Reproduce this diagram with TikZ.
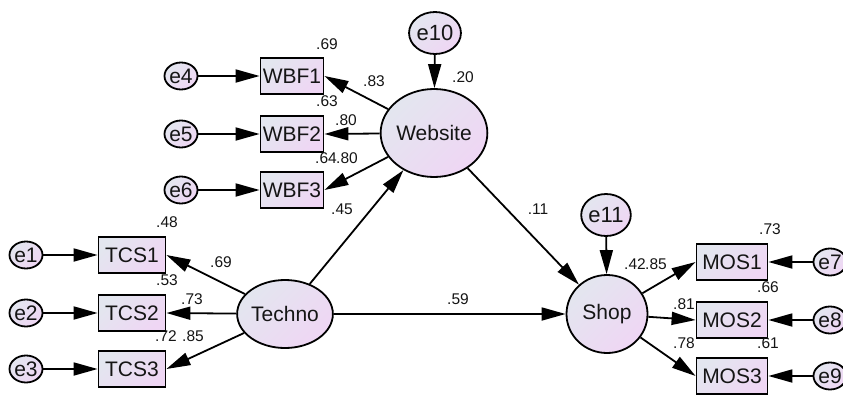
\documentclass[tikz,border=0pt]{standalone}
\usepackage{fontspec}
\setmainfont{Liberation Sans}
\usetikzlibrary{shapes.geometric,arrows.meta}
\definecolor{fillA}{HTML}{E3E6EF}
\definecolor{fillB}{HTML}{EFD6F4}
\definecolor{ink}{HTML}{151515}

\begin{document}
\begin{tikzpicture}[x=1pt, y=-1pt]
    \tikzset{latent/.style={ellipse, draw=black, line width=1.8pt, left color=fillA, right color=fillB, shading angle=45, inner sep=0pt, text=ink, font=\fontsize{21}{21}\selectfont}}
    \tikzset{err/.style={latent, minimum width=31pt, minimum height=27pt}}
    \tikzset{err big/.style={latent, minimum width=47pt, minimum height=42pt, font=\fontsize{22}{22}\selectfont}}
    \tikzset{obs/.style={rectangle, draw=black, line width=1.8pt, left color=fillA, right color=fillB, shading angle=45, inner sep=0pt, minimum height=36pt, text=ink, font=\fontsize{21}{21}\selectfont}}
    \tikzset{coef/.style={inner sep=0pt, text=ink, font=\fontsize{15.5}{15.5}\selectfont}}
    \tikzset{path/.style={line width=1.8pt, -{Triangle[length=24pt, width=13pt]}}}

    % frame
    \useasboundingbox (0,0) rectangle (843,394);

    % latent variables
    \node[latent, minimum width=95pt, minimum height=88pt] (website) at (434,133) {Website};
    \node[latent, minimum width=86pt, minimum height=68pt] (techno) at (285,314) {Techno};
    \node[latent, minimum width=81pt, minimum height=78pt] (shop) at (607,314) {Shop};

    % disturbances
    \node[err big] (e10) at (435,33) {e10};
    \node[err big] (e11) at (606,215) {e11};

    % indicators
    \node[obs, minimum width=63pt] (wbf1) at (292,76) {WBF1};
    \node[obs, minimum width=63pt] (wbf2) at (292,134) {WBF2};
    \node[obs, minimum width=63pt] (wbf3) at (292,190) {WBF3};
    \node[obs, minimum width=67pt] (tcs1) at (132,255) {TCS1};
    \node[obs, minimum width=67pt] (tcs2) at (132,313) {TCS2};
    \node[obs, minimum width=67pt] (tcs3) at (132,369) {TCS3};
    \node[obs, minimum width=71pt] (mos1) at (732,262) {MOS1};
    \node[obs, minimum width=71pt] (mos2) at (732,320) {MOS2};
    \node[obs, minimum width=71pt] (mos3) at (732,376) {MOS3};

    % measurement errors
    \node[err] (e4) at (181,76) {e4};
    \node[err] (e5) at (181,134) {e5};
    \node[err] (e6) at (181,190) {e6};
    \node[err] (e1) at (26,255) {e1};
    \node[err] (e2) at (26,313) {e2};
    \node[err] (e3) at (26,369) {e3};
    \node[err] (e7) at (830,262) {e7};
    \node[err] (e8) at (830,320) {e8};
    \node[err] (e9) at (830,376) {e9};

    % error paths
    \draw[path] (e4) -- (wbf1.west);
    \draw[path] (e5) -- (wbf2.west);
    \draw[path] (e6) -- (wbf3.west);
    \draw[path] (e1) -- (tcs1.west);
    \draw[path] (e2) -- (tcs2.west);
    \draw[path] (e3) -- (tcs3.west);
    \draw[path] (e7) -- (mos1.east);
    \draw[path] (e8) -- (mos2.east);
    \draw[path] (e9) -- (mos3.east);
    \draw[path] (e10) -- (website);
    \draw[path] (e11) -- (shop);

    % loadings
    \draw[path] (website) -- (wbf1.east);
    \draw[path] (website) -- (wbf2.east);
    \draw[path] (website) -- (wbf3.east);
    \draw[path] (techno) -- (tcs1.east);
    \draw[path] (techno) -- (tcs2.east);
    \draw[path] (techno) -- (tcs3.east);
    \draw[path] (shop) -- (mos1.west);
    \draw[path] (shop) -- (mos2.west);
    \draw[path] (shop) -- (mos3.west);

    % structural paths
    \draw[path] (techno) -- (website);
    \draw[path] (website) -- (shop);
    \draw[path] (techno) -- (shop);

    % squared multiple correlations
    \node[coef] (r wbf1) at (327,44) {.69};
    \node[coef] (r wbf2) at (327,101) {.63};
    \node[coef] (r wbf3) at (326,158) {.64};
    \node[coef] (r tcs1) at (167,222) {.48};
    \node[coef] (r tcs2) at (167,280) {.53};
    \node[coef] (r tcs3) at (166,336) {.72};
    \node[coef] (r mos1) at (770,229) {.73};
    \node[coef] (r mos2) at (768,287) {.66};
    \node[coef] (r mos3) at (768,343) {.61};
    \node[coef] (r website) at (463,77) {.20};
    \node[coef] (r shop) at (635,264) {.42};

    % weights
    \node[coef] (w wbf1) at (374,81) {.83};
    \node[coef] (w wbf2) at (346,120) {.80};
    \node[coef] (w wbf3) at (347,158) {.80};
    \node[coef] (w tcs1) at (221,262) {.69};
    \node[coef] (w tcs2) at (192,299) {.73};
    \node[coef] (w tcs3) at (193,336) {.85};
    \node[coef] (w mos1) at (656,264) {.85};
    \node[coef] (w mos2) at (684,304) {.81};
    \node[coef] (w mos3) at (684,343) {.78};
    \node[coef] (w tw) at (342,209) {.45};
    \node[coef] (w ws) at (538,209) {.11};
    \node[coef] (w ts) at (458,299) {.59};

  \end{tikzpicture}
\end{document}
